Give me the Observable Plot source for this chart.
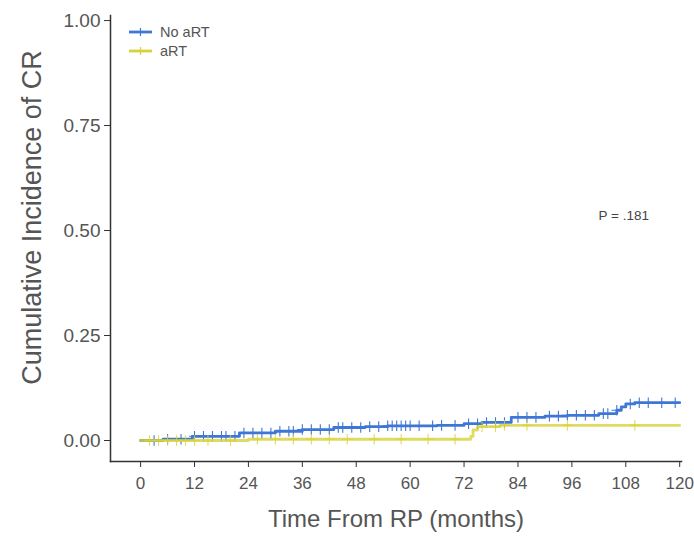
<!DOCTYPE html>
<html><head><meta charset="utf-8">
<script src="https://cdn.jsdelivr.net/npm/d3@7"></script>
<script src="https://cdn.jsdelivr.net/npm/@observablehq/plot@0.6"></script>
<style>body{margin:0;background:#fff;font-family:"Liberation Sans",Arial,sans-serif}</style>
</head><body><div id="chart"></div>
<script>
const groups = ["No aRT", "aRT"];
const colors = ["#3f77d6", "#d8d23a"];
const noArtTime = [0, 5, 11.5, 22, 30, 36, 43, 50, 55, 66, 72, 76, 82.5, 90, 95, 102, 106, 107, 108, 110, 120];
const noArtCI   = [0, 0.003, 0.01, 0.018, 0.022, 0.026, 0.031, 0.033, 0.035, 0.036, 0.04, 0.043, 0.055, 0.058, 0.06, 0.064, 0.072, 0.08, 0.087, 0.09, 0.09];
const artTime = [0, 24, 73.5, 74, 75, 80, 120];
const artCI   = [0, 0.003, 0.01, 0.025, 0.033, 0.036, 0.036];
const noArtCensor = [3, 6, 9, 12, 14, 16, 18, 19, 21, 23, 25, 27, 29, 31, 33, 34, 36, 38, 40, 42, 44, 45, 47, 49, 51, 53, 55, 56, 57, 58, 59, 60, 62, 65, 67, 70, 73, 75, 77, 79, 81, 84, 86, 88, 91, 93, 95, 97, 99, 101, 103, 104, 106, 109, 111, 113, 116, 119];
const artCensor = [2, 4, 6, 8, 10, 12, 15, 20, 26, 30, 34, 38, 42, 46, 52, 58, 64, 70, 76, 79, 81, 86, 95, 110];
const xTicks = [0, 12, 24, 36, 48, 60, 72, 84, 96, 108, 120];
const yTicks = [0, 0.25, 0.5, 0.75, 1];
const pLabel = "P = .181";
const xLabel = "Time From RP (months)";
const yLabel = "Cumulative Incidence of CR";

function stepAt(times, vals, t) {
  let v = vals[0];
  for (let i = 0; i < times.length; i++) if (times[i] <= t) v = vals[i];
  return v;
}
const curves = [
  ...noArtTime.map((t, i) => ({group: groups[0], t, v: noArtCI[i]})),
  ...artTime.map((t, i) => ({group: groups[1], t, v: artCI[i]}))
];
const censors = [
  ...noArtCensor.map(t => ({group: groups[0], t, v: stepAt(noArtTime, noArtCI, t)})),
  ...artCensor.map(t => ({group: groups[1], t, v: stepAt(artTime, artCI, t)}))
];

const chart = Plot.plot({
  width: 694,
  height: 541,
  marginLeft: 110,
  marginRight: 13,
  marginTop: 15,
  marginBottom: 80,
  style: {fontFamily: '"Liberation Sans", Arial, sans-serif', background: "#fff"},
  x: {domain: [-6.7, 120.4]},
  y: {domain: [-0.05, 1.012]},
  marks: [
    Plot.frame({anchor: "left", stroke: "#333", strokeWidth: 1.5}),
    Plot.frame({anchor: "bottom", stroke: "#333", strokeWidth: 1.5}),
    Plot.axisY({ticks: yTicks, tickFormat: d3.format(".2f"), tickSize: 6, tickPadding: 4, fontSize: 19, color: "#555", stroke: "#333", label: null}),
    Plot.axisX({ticks: xTicks, tickSize: 6, tickPadding: 9, fontSize: 17, color: "#555", stroke: "#333", label: null}),
    Plot.line(curves.filter(d => d.group === groups[0]), {x: "t", y: "v", curve: "step-after", stroke: colors[0], strokeWidth: 2.8}),
    Plot.dot(censors.filter(d => d.group === groups[0]), {x: "t", y: "v", symbol: "plus", r: 3.5, stroke: colors[0], strokeWidth: 1.1}),
    Plot.line(curves.filter(d => d.group === groups[1]), {x: "t", y: "v", curve: "step-after", stroke: colors[1], strokeWidth: 2.8, strokeOpacity: 0.8}),
    Plot.dot(censors.filter(d => d.group === groups[1]), {x: "t", y: "v", symbol: "plus", r: 3.5, stroke: colors[1], strokeWidth: 1.1, strokeOpacity: 0.8}),
    Plot.text([pLabel], {text: d => d, frameAnchor: "top-left", dx: 488, dy: 195, textAnchor: "start", fontSize: 13.5, fill: "#444"}),
    Plot.text([yLabel], {text: d => d, frameAnchor: "left", dx: -78, dy: -21, rotate: -90, textAnchor: "middle", fontSize: 27, fill: "#555"}),
    Plot.text([xLabel], {text: d => d, frameAnchor: "bottom", dy: 65, fontSize: 24, fill: "#555"})
  ]
});
document.getElementById("chart").appendChild(chart);

// legend inside the plot area
const svg = d3.select(chart);
const leg = svg.append("g").attr("font-family", '"Liberation Sans", Arial, sans-serif').attr("text-anchor", "start");
groups.forEach((g, i) => {
  const y = 32 + i * 19;
  const row = leg.append("g").attr("transform", `translate(129,${y})`);
  row.append("line").attr("x1", 0).attr("x2", 23).attr("y1", 0).attr("y2", 0).attr("stroke", colors[i]).attr("stroke-width", 2.8);
  row.append("line").attr("x1", 11.5).attr("x2", 11.5).attr("y1", -4).attr("y2", 4).attr("stroke", colors[i]).attr("stroke-width", 1.2);
  row.append("text").attr("x", 31).attr("y", 0).attr("dy", "0.35em").attr("text-anchor", "start").attr("font-size", 14.5).attr("fill", "#555").text(g);
});
</script></body></html>
